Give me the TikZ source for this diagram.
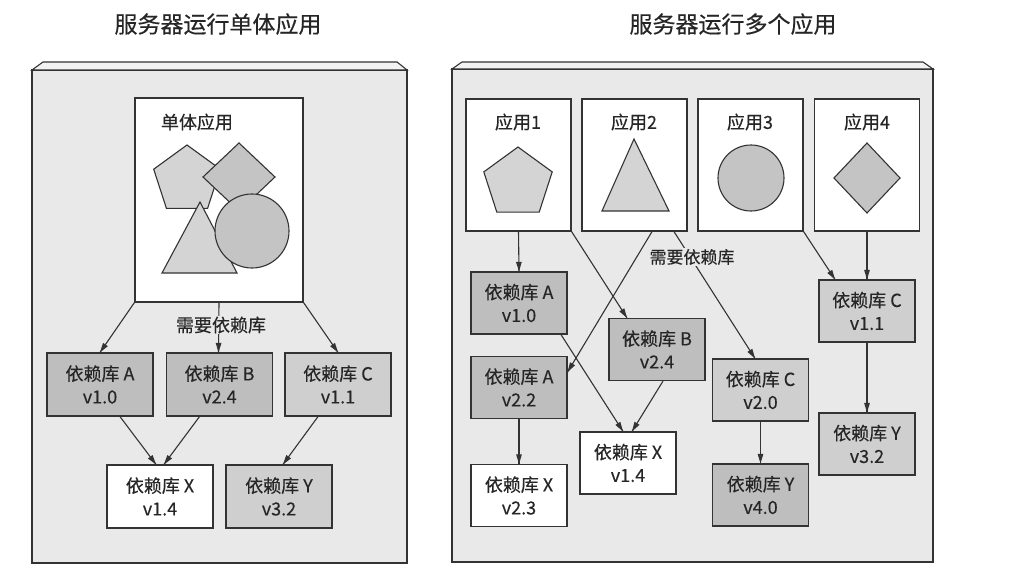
\documentclass[tikz,border=0pt]{standalone}
\usepackage{fontspec}
\setmainfont{Noto Sans CJK SC}[FakeBold=0.3]
\usetikzlibrary{calc}

\definecolor{srvbg}{HTML}{E9E9E9}
\definecolor{srvtop}{HTML}{F2F2F2}
\definecolor{depdark}{HTML}{BEBEBE}
\definecolor{deplight}{HTML}{CFCFCF}
\definecolor{shapelight}{HTML}{D4D4D4}
\definecolor{shapedark}{HTML}{C4C4C4}
\definecolor{linegray}{HTML}{333333}
\definecolor{txtgray}{HTML}{262626}

% connector with a filled head
\newcommand{\needarrow}[2]{%
	\draw[need] (#1) -- (#2);
	\fill[linegray] (#2) -- ($(#2)!10pt!17:(#1)$) -- ($(#2)!10pt!-17:(#1)$) -- cycle;}

\begin{document}
\begin{tikzpicture}[x=1pt,y=-1pt,
		srvline/.style={draw=linegray, line width=1.1pt},
		appbox/.style={draw=linegray, line width=1.2pt, fill=white, inner sep=0pt},
		applabel/.style={text=txtgray, font=\fontsize{18}{22}\selectfont},
		dep/.style={draw=linegray, line width=1.2pt, minimum width=106pt, minimum height=63pt, inner sep=0pt, align=center, text=txtgray, font=\fontsize{18}{23}\selectfont},
		rdep/.style={dep, minimum width=96pt, minimum height=62pt},
		darkdep/.style={fill=depdark},
		lightdep/.style={fill=deplight},
		freedep/.style={fill=white},
		need/.style={draw=linegray, line width=1.1pt},
		needlabel/.style={fill=srvbg, inner sep=1pt, text=txtgray},
		shapeline/.style={draw=linegray, line width=1.1pt}]
	\useasboundingbox (0,0) rectangle (1020,583);

	% Titles
	\node[text=txtgray, font=\fontsize{23}{27}\selectfont] (titleleft) at (218,24) {服务器运行单体应用};
	\node[text=txtgray, font=\fontsize{23}{27}\selectfont] (titleright) at (733,24) {服务器运行多个应用};

	% Server boxes
	\draw[srvline, fill=srvbg] (32,70) rectangle (407,563);
	\draw[srvline, fill=srvtop] (32,70) -- (43,62) -- (397,62) -- (407,70) -- cycle;
	\draw[srvline, fill=srvbg] (452,69) rectangle (933,562);
	\draw[srvline, fill=srvtop] (452,69) -- (462,62) -- (923,62) -- (933,69) -- cycle;

	% Monolith
	\node[appbox, minimum width=168pt, minimum height=204pt] (mono) at (219,200) {};
	\node[applabel] (monolabel) at (197,122) {单体应用};
	\draw[shapeline, fill=shapelight] (187,145) -- (220.3,169.2) -- (207.6,208.3) -- (166.4,208.3) -- (153.7,169.2) -- cycle;
	\draw[shapeline, fill=shapedark] (239,143) -- (275,177) -- (239,211) -- (203,177) -- cycle;
	\draw[shapeline, fill=shapelight] (200,202) -- (237,273) -- (162,273) -- cycle;
	\draw[shapeline, fill=shapedark] (252,231) circle (37);

	% Left dependencies
	\node[dep, darkdep] (depA) at (100,384.5) {依赖库 A\\v1.0};
	\node[dep, darkdep] (depB) at (219.5,384.5) {依赖库 B\\v2.4};
	\node[dep, lightdep] (depC) at (338,384.5) {依赖库 C\\v1.1};
	\node[dep, freedep] (depX) at (160,496.5) {依赖库 X\\v1.4};
	\node[dep, lightdep] (depY) at (279,496.5) {依赖库 Y\\v3.2};

	\needarrow{mono.south west}{depA.north}
	\needarrow{mono.south}{[xshift=-1pt]depB.north}
	\needarrow{mono.south east}{depC.north}
	\needarrow{[xshift=20pt]depA.south}{[xshift=-4pt]depX.north}
	\needarrow{[xshift=-20pt]depB.south}{[xshift=4pt]depX.north}
	\needarrow{[xshift=-20pt]depC.south}{[xshift=4pt]depY.north}
	\node[needlabel, font=\fontsize{18}{22}\selectfont] (needleft) at (221,325) {需要依赖库};

	% Applications
	\node[appbox, minimum width=105pt, minimum height=132pt] (app1) at (518.5,165) {};
	\node[appbox, minimum width=105pt, minimum height=132pt] (app2) at (634.5,165) {};
	\node[appbox, minimum width=105pt, minimum height=132pt] (app3) at (750.5,165) {};
	\node[appbox, minimum width=105pt, minimum height=132pt] (app4) at (867,165) {};
	\node[applabel] (applabel1) at (518,122) {应用1};
	\node[applabel] (applabel2) at (634,122) {应用2};
	\node[applabel] (applabel3) at (750,122) {应用3};
	\node[applabel] (applabel4) at (867,122) {应用4};
	\draw[shapeline, fill=shapelight] (518,147) -- (552.2,171.9) -- (539.2,212.1) -- (496.8,212.1) -- (483.8,171.9) -- cycle;
	\draw[shapeline, fill=shapelight] (634,139) -- (669,211) -- (602,211) -- cycle;
	\draw[shapeline, fill=shapedark] (751,178) circle (33);
	\draw[shapeline, fill=shapedark] (867,143) -- (900,178) -- (867,213) -- (834,178) -- cycle;

	% Right dependencies
	\node[rdep, darkdep] (rdepA1) at (519,303) {依赖库 A\\v1.0};
	\node[rdep, darkdep] (rdepB) at (657,349.5) {依赖库 B\\v2.4};
	\node[rdep, lightdep] (rdepC1) at (867,311) {依赖库 C\\v1.1};
	\node[rdep, darkdep] (rdepA2) at (519,387.5) {依赖库 A\\v2.2};
	\node[rdep, lightdep] (rdepC2) at (760.5,390) {依赖库 C\\v2.0};
	\node[rdep, freedep] (rdepX1) at (628,463) {依赖库 X\\v1.4};
	\node[rdep, freedep] (rdepX2) at (519,495.5) {依赖库 X\\v2.3};
	\node[rdep, darkdep] (rdepY4) at (760.5,495) {依赖库 Y\\v4.0};
	\node[rdep, lightdep] (rdepY3) at (867,444) {依赖库 Y\\v3.2};

	\needarrow{app1.south}{rdepA1.north}
	\needarrow{app1.south east}{[xshift=-30pt]rdepB.north}
	\needarrow{[xshift=17.5pt]app2.south}{[yshift=15.5pt]rdepA2.east}
	\needarrow{[xshift=39.5pt]app2.south}{[xshift=-5.5pt]rdepC2.north}
	\needarrow{app3.south east}{[xshift=-32pt]rdepC1.north}
	\needarrow{app4.south}{rdepC1.north}
	\needarrow{[xshift=42pt]rdepA1.south}{[xshift=-5pt]rdepX1.north}
	\needarrow{[xshift=6pt]rdepB.south}{[xshift=4pt]rdepX1.north}
	\needarrow{rdepA2.south}{rdepX2.north}
	\needarrow{rdepC2.south}{rdepY4.north}
	\needarrow{rdepC1.south}{rdepY3.north}
	\node[needlabel, font=\fontsize{17}{20}\selectfont] (needright) at (692,257) {需要依赖库};
\end{tikzpicture}
\end{document}
